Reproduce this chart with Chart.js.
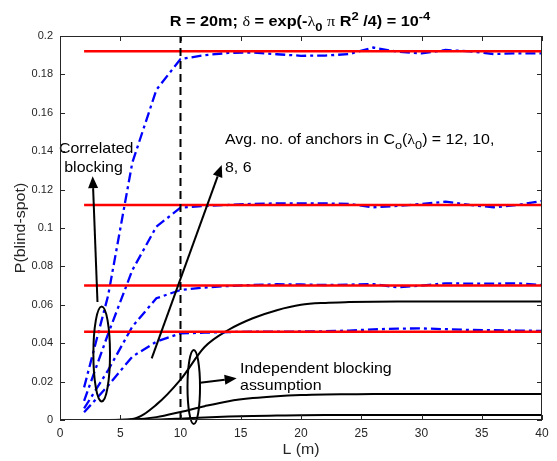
<!DOCTYPE html>
<html>
<head>
<meta charset="utf-8">
<script src="https://cdn.jsdelivr.net/npm/chart.js@4/dist/chart.umd.min.js"></script>
<style>
html,body{margin:0;padding:0;background:#fff;}
#wrap{width:557px;height:461px;position:relative;}
</style>
</head>
<body>
<div id="wrap"><canvas id="c" width="557" height="461"></canvas></div>
<script>
// ---------- data ----------
const L_VALUES = [2,4,6,8,10,12,14,16,18,20,22,24,26,28,30,32,34,36,38,40];

// correlated blocking (simulation, blue dash-dot)
const CORR_12 = [0.017,0.065,0.134,0.172,0.188,0.1900,0.1912,0.1914,0.1905,0.1897,0.1898,0.1906,0.1940,0.1918,0.1910,0.1927,0.1920,0.1906,0.1910,0.1910];
const CORR_10 = [0.010,0.045,0.078,0.1007,0.1106,0.1115,0.1120,0.1126,0.1128,0.1128,0.1128,0.1125,0.1108,0.1115,0.1125,0.1137,0.1120,0.1108,0.1120,0.1141];
const CORR_8  = [0.006,0.026,0.0486,0.0634,0.0677,0.0690,0.0698,0.0703,0.0707,0.0706,0.0703,0.0705,0.0708,0.0691,0.0700,0.0712,0.0710,0.0710,0.0712,0.0703];
const CORR_6  = [0.004,0.018,0.033,0.0408,0.0451,0.0455,0.0458,0.0460,0.0460,0.0461,0.0462,0.0466,0.0472,0.0476,0.0477,0.0473,0.0469,0.0468,0.0466,0.0464];

// limits (red horizontal lines)
const LIMITS = [0.192, 0.112, 0.070, 0.046];
const LIMIT_L = [2, 40];

// independent blocking assumption (black solid)
const INDEP_A = [0,0,0.0005,0.008,0.021,0.038,0.047,0.053,0.0572,0.0600,0.0610,0.0614,0.0616,0.0617,0.0617,0.0617,0.0617,0.0617,0.0617,0.0617];
const INDEP_B = [0,0,0.0002,0.0015,0.0042,0.0072,0.0098,0.0114,0.0124,0.0130,0.0133,0.0134,0.0135,0.0135,0.0135,0.0135,0.0135,0.0135,0.0135,0.0135];
const INDEP_C = [0,0,0,0.0002,0.0007,0.0013,0.0018,0.0021,0.0023,0.0025,0.0026,0.0026,0.0026,0.0026,0.0026,0.0026,0.0026,0.0026,0.0026,0.0026];

// vertical marker at L = 10
const MARKER_L = 10;

// axes
const X_TICKS = [0,5,10,15,20,25,30,35,40];
const X_TICK_LABELS = ['0','5','10','15','20','25','30','35','40'];
const Y_TICKS = [0,0.02,0.04,0.06,0.08,0.1,0.12,0.14,0.16,0.18,0.2];
const Y_TICK_LABELS = ['0','0.02','0.04','0.06','0.08','0.1','0.12','0.14','0.16','0.18','0.2'];

// ---------- styling ----------
const SANS = '"Liberation Sans", Arial, Helvetica, sans-serif';
const GREEK = '"Liberation Serif", "DejaVu Serif", serif';
const AXIS_COLOR = '#262626';
const SX = 1.1; // horizontal text stretch seen in the reference

const pts = (xs, ys) => xs.map((x, i) => ({x, y: ys[i]}));

const blueStyle = {borderColor:'#0000ff', borderWidth:2.3, borderDash:[10,4,3,4], pointRadius:0, fill:false, tension:0};
const redStyle = {borderColor:'#ff0000', borderWidth:2.5, pointRadius:0, fill:false, tension:0};
const blackStyle = {borderColor:'#000000', borderWidth:2, pointRadius:0, fill:false, cubicInterpolationMode:'monotone'};

const datasets = [];
[CORR_12, CORR_10, CORR_8, CORR_6].forEach((arr, i) => {
  datasets.push(Object.assign({label:'corr'+i, data: pts(L_VALUES, arr), order: 3}, blueStyle));
});
LIMITS.forEach((v, i) => {
  datasets.push(Object.assign({label:'limit'+i, data: LIMIT_L.map(l => ({x:l, y:v})), order: 2}, redStyle));
});
[INDEP_A, INDEP_B, INDEP_C].forEach((arr, i) => {
  datasets.push(Object.assign({label:'indep'+i, data: pts(L_VALUES, arr), order: 4}, blackStyle));
});
datasets.push({label:'marker', data:[{x:MARKER_L, y:Y_TICKS[0]},{x:MARKER_L, y:Y_TICKS[Y_TICKS.length-1]}],
  borderColor:'#000', borderWidth:2, borderDash:[8,5], pointRadius:0, fill:false, order:1});

// ---------- annotations (in data coordinates) ----------
const ANNOT = {
  ellipses: [ {x:3.46, y:0.0344, rx:0.69, ry:0.0247}, {x:11.1, y:0.0172, rx:0.52, ry:0.0193} ],
  arrows: [ {x1:3.11, y1:0.0615, x2:2.71, y2:0.127},
            {x1:7.61, y1:0.0321, x2:13.42, y2:0.1328},
            {x1:11.62, y1:0.0194, x2:14.66, y2:0.0217} ],
  texts: [
    {x:3.0, y:0.1392, align:'center', segs:[{t:'Correlated'}]},
    {x:2.78, y:0.1294, align:'center', segs:[{t:'blocking'}]},
    {x:13.69, y:0.1436, align:'left', segs:[{t:'Avg. no. of anchors in C'},{t:'o',sub:true},{t:'('},{t:'\u03bb',greek:true},{t:'0',sub:true},{t:') = 12, 10,'}]},
    {x:13.69, y:0.1293, align:'left', segs:[{t:'8, 6'}]},
    {x:14.94, y:0.0246, align:'left', segs:[{t:'Independent blocking'}]},
    {x:14.94, y:0.0156, align:'left', segs:[{t:'assumption'}]}
  ]
};

const TITLE_SEGS = [
  {t:'R = 20m; ', bold:true}, {t:'\u03b4', greek:true}, {t:' = exp(-', bold:true}, {t:'\u03bb', greek:true},
  {t:'0', bold:true, sub:true}, {t:' ', bold:true}, {t:'\u03c0', greek:true}, {t:' R', bold:true},
  {t:'2', bold:true, sup:true}, {t:' /4) = 10', bold:true}, {t:'-4', bold:true, sup:true}
];

function drawRich(ctx, segs, x, y, size, align, sx) {
  const pieces = segs.map(s => {
    const fs = (s.sub || s.sup) ? size * 0.8 : size;
    const font = (s.bold ? 'bold ' : '') + fs + 'px ' + (s.greek ? GREEK : SANS);
    ctx.font = font;
    return {t:s.t, font, w:ctx.measureText(s.t).width, dy: s.sub ? size*0.33 : (s.sup ? -size*0.42 : 0)};
  });
  const total = pieces.reduce((a, p) => a + p.w, 0);
  ctx.save();
  ctx.translate(x, y);
  ctx.scale(sx, 1);
  ctx.textAlign = 'left';
  ctx.textBaseline = 'alphabetic';
  let cx = align === 'center' ? -total/2 : 0;
  for (const p of pieces) { ctx.font = p.font; ctx.fillText(p.t, cx, p.dy); cx += p.w; }
  ctx.restore();
}

function arrow(ctx, x1, y1, x2, y2) {
  const ang = Math.atan2(y2 - y1, x2 - x1);
  const hl = 12, hw = 5;
  const bx = x2 - hl*Math.cos(ang), by = y2 - hl*Math.sin(ang);
  ctx.beginPath(); ctx.moveTo(x1, y1); ctx.lineTo(bx, by); ctx.stroke();
  ctx.beginPath();
  ctx.moveTo(x2, y2);
  ctx.lineTo(bx + hw*Math.sin(ang), by - hw*Math.cos(ang));
  ctx.lineTo(bx - hw*Math.sin(ang), by + hw*Math.cos(ang));
  ctx.closePath(); ctx.fill();
}

const decor = {
  id: 'decor',
  afterDatasetsDraw(chart) {
    const {ctx, chartArea: a} = chart;
    const xs = chart.scales.x, ys = chart.scales.y;
    const px = v => xs.getPixelForValue(v), py = v => ys.getPixelForValue(v);
    ctx.save();
    // annotations
    ctx.strokeStyle = '#000'; ctx.fillStyle = '#000'; ctx.lineWidth = 2;
    ANNOT.ellipses.forEach(e => {
      const cx = px(e.x), cy = py(e.y);
      const rx = Math.abs(px(e.x + e.rx) - cx), ry = Math.abs(py(e.y + e.ry) - cy);
      ctx.beginPath(); ctx.ellipse(cx, cy, rx, ry, 0, 0, Math.PI*2); ctx.stroke();
    });
    ANNOT.arrows.forEach(r => arrow(ctx, px(r.x1), py(r.y1), px(r.x2), py(r.y2)));
    ANNOT.texts.forEach(t => drawRich(ctx, t.segs, px(t.x), py(t.y), 14.5, t.align, SX));
    // axes box and inward ticks
    ctx.strokeStyle = AXIS_COLOR; ctx.lineWidth = 1;
    ctx.strokeRect(Math.round(a.left)+0.5, Math.round(a.top)+0.5, Math.round(a.right - a.left)-1, Math.round(a.bottom - a.top)-1);
    ctx.beginPath();
    const T = 5;
    X_TICKS.forEach(v => {
      const x = Math.round(px(v)) + 0.5;
      ctx.moveTo(x, a.bottom); ctx.lineTo(x, a.bottom - T);
      ctx.moveTo(x, a.top); ctx.lineTo(x, a.top + T);
    });
    Y_TICKS.forEach(v => {
      const y = Math.round(py(v)) + 0.5;
      ctx.moveTo(a.left, y); ctx.lineTo(a.left + T, y);
      ctx.moveTo(a.right, y); ctx.lineTo(a.right - T, y);
    });
    ctx.stroke();
    // title and axis labels
    ctx.fillStyle = '#000';
    drawRich(ctx, TITLE_SEGS, 300, 26, 14.5, 'center', 1.12);
    ctx.fillStyle = AXIS_COLOR;
    drawRich(ctx, [{t:'L (m)'}], (a.left + a.right)/2, 454, 14.5, 'center', SX);
    ctx.save();
    ctx.translate(20, (a.top + a.bottom)/2);
    ctx.rotate(-Math.PI/2);
    drawRich(ctx, [{t:'P(blind-spot)'}], 0, 5, 14.5, 'center', SX);
    ctx.restore();
    ctx.restore();
  }
};

new Chart(document.getElementById('c'), {
  type: 'line',
  data: { datasets },
  options: {
    responsive: false,
    animation: false,
    devicePixelRatio: 1,
    layout: { padding: { left: 0, right: 15, top: 36, bottom: 0 } },
    plugins: { legend: { display: false }, title: { display: false }, tooltip: { enabled: false } },
    scales: {
      x: {
        type: 'linear', min: X_TICKS[0], max: X_TICKS[X_TICKS.length-1],
        grid: { display: false, drawTicks: false }, border: { display: false },
        afterBuildTicks: s => { s.ticks = X_TICKS.map(v => ({value: v})); },
        afterFit: s => { s.height = 41; },
        ticks: { color: AXIS_COLOR, font: { family: SANS, size: 12 }, padding: 6, maxRotation: 0,
                 callback: (v, i) => X_TICK_LABELS[i] }
      },
      y: {
        type: 'linear', min: Y_TICKS[0], max: Y_TICKS[Y_TICKS.length-1],
        grid: { display: false, drawTicks: false }, border: { display: false },
        afterBuildTicks: s => { s.ticks = Y_TICKS.map(v => ({value: v})); },
        afterFit: s => { s.width = 60; },
        ticks: { color: AXIS_COLOR, font: { family: SANS, size: 11 }, padding: 7,
                 callback: (v, i) => Y_TICK_LABELS[i] }
      }
    }
  },
  plugins: [decor]
});
</script>
</body>
</html>
